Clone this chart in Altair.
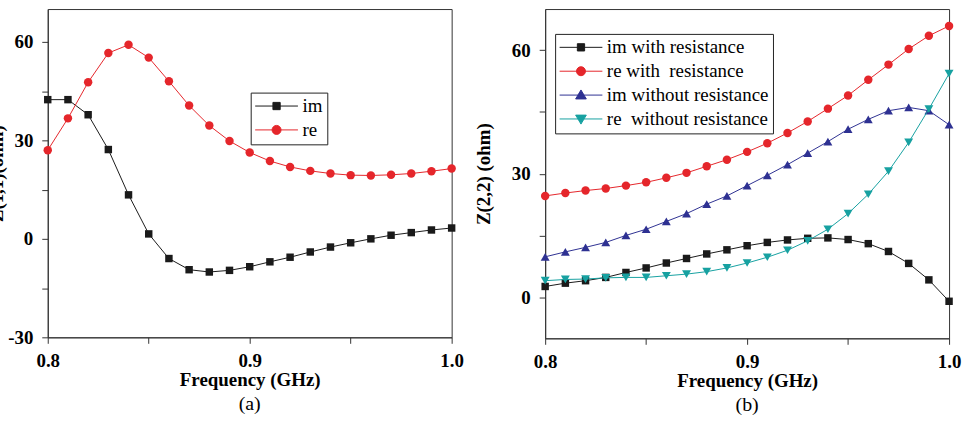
import altair as alt
import pandas as pd

FONT = "Liberation Serif"

# Frequency sweep (GHz)
freq = [0.80, 0.81, 0.82, 0.83, 0.84, 0.85, 0.86, 0.87, 0.88, 0.89, 0.90,
        0.91, 0.92, 0.93, 0.94, 0.95, 0.96, 0.97, 0.98, 0.99, 1.00]

# Z(1,1) in ohm
z11_im = [42.4, 42.4, 37.8, 27.2, 13.4, 1.5, -6.0, -9.4, -10.1, -9.6, -8.5,
          -7.0, -5.6, -4.0, -2.5, -1.2, 0.0, 1.1, 1.9, 2.7, 3.3]
z11_re = [27.0, 36.7, 47.7, 56.6, 59.1, 55.2, 48.0, 40.6, 34.5, 29.8, 26.3,
          23.7, 21.9, 20.7, 19.9, 19.4, 19.3, 19.5, 19.9, 20.6, 21.4]

# Z(2,2) in ohm
z22_im_r = [2.6, 3.4, 4.0, 4.8, 6.0, 7.1, 8.3, 9.4, 10.5, 11.5, 12.5,
            13.3, 13.9, 14.3, 14.4, 14.0, 13.0, 11.1, 8.2, 4.2, -1.0]
z22_re_r = [24.6, 25.3, 25.9, 26.4, 27.1, 27.9, 29.0, 30.2, 31.8, 33.4, 35.3,
            37.4, 39.9, 42.7, 45.8, 49.0, 52.8, 56.5, 60.3, 63.5, 65.9]
z22_im_nr = [9.8, 11.0, 12.1, 13.3, 15.0, 16.5, 18.4, 20.3, 22.6, 24.6, 27.1,
             29.6, 32.2, 35.0, 37.8, 40.8, 43.2, 45.3, 46.1, 45.3, 41.9]
z22_re_nr = [4.0, 4.3, 4.4, 4.7, 4.8, 4.8, 5.2, 5.6, 6.2, 7.1, 8.3,
             9.7, 11.4, 13.7, 16.5, 20.3, 25.0, 30.6, 37.6, 45.7, 54.3]

names_a = ["im", "re"]
names_b = ["im with resistance", "re with\u00a0 resistance",
           "im without resistance", "re\u00a0 without resistance"]

BLACK, RED, BLUE, TEAL = "#1a1a1a", "#e5262b", "#2e3192", "#17a1a1"

# marker + line legend glyphs (unit coordinates, scaled by the symbol size)
LINE = "M-1,0L1,0"
P_SQUARE = LINE + "M-0.17,-0.17L0.17,-0.17L0.17,0.17L-0.17,0.17Z"
P_CIRCLE = LINE + "M-0.21,0A0.21,0.21 0 1,0 0.21,0A0.21,0.21 0 1,0 -0.21,0Z"
P_UP = LINE + "M0,-0.24L0.25,0.18L-0.25,0.18Z"
P_DOWN = LINE + "M0,0.24L0.25,-0.18L-0.25,-0.18Z"


def long_table(names, series):
    rows = []
    for n, vals in zip(names, series):
        for f, v in zip(freq, vals):
            rows.append({"f": f, "z": v, "s": n})
    return pd.DataFrame(rows)


X_LABEL = "round(datum.value * 100) % 10 == 0 ? format(datum.value, '.1f') : ''"
Y_LABEL = "datum.value % 30 == 0 ? '' + datum.value : ''"


def panel(df, names, colors, shapes, sizes, paths, y_title, y_domain, y_ticks,
          caption, leg_x, leg_y, title_pad, h):
    x = alt.X("f:Q", scale=alt.Scale(domain=[0.8, 1.0], nice=False, zero=False),
              axis=alt.Axis(title="Frequency (GHz)",
                            values=[0.8, 0.85, 0.9, 0.95, 1.0],
                            labelExpr=X_LABEL, labelPadding=8, titlePadding=0))
    y = alt.Y("z:Q", scale=alt.Scale(domain=y_domain, nice=False, zero=False),
              axis=alt.Axis(title=y_title, values=y_ticks, labelExpr=Y_LABEL,
                            labelPadding=9, titlePadding=title_pad))
    layers = []
    for n, c, shp, sz in zip(names, colors, shapes, sizes):
        sub = alt.Chart(df).transform_filter(alt.datum.s == n)
        layers.append(sub.mark_line(color=c, strokeWidth=1).encode(x=x, y=y))
        layers.append(sub.mark_point(shape=shp, filled=True, color=c, size=sz,
                                     opacity=1, strokeWidth=0).encode(x=x, y=y))
    legend = alt.Legend(title=None, orient="none", legendX=leg_x, legendY=leg_y,
                        direction="vertical", padding=4, strokeColor="#222",
                        fillColor="white", symbolSize=1849, symbolStrokeWidth=1,
                        clipHeight=19, rowPadding=4, labelOffset=4, labelLimit=0,
                        labelFont=FONT, labelFontSize=19, labelColor="black",
                        labelFontWeight="normal")
    key = alt.Chart(df).transform_filter("false").mark_point(
        filled=True, opacity=1, strokeWidth=1).encode(
        x=x, y=y,
        fill=alt.Fill("s:N", scale=alt.Scale(domain=names, range=colors), legend=legend),
        stroke=alt.Stroke("s:N", scale=alt.Scale(domain=names, range=colors), legend=legend),
        shape=alt.Shape("s:N", scale=alt.Scale(domain=names, range=paths), legend=legend),
    )
    layers.append(key)
    return alt.layer(*layers).properties(
        width=406, height=h,
        title=alt.TitleParams(caption, orient="bottom", font=FONT, fontSize=20,
                              fontWeight="normal", color="black", offset=5),
    )


left = panel(long_table(names_a, [z11_im, z11_re]), names_a,
             [BLACK, RED], ["square", "circle"], [56, 72], [P_SQUARE, P_CIRCLE],
             "Z(1,1)(ohm)", [-30, 70], [-30, -15, 0, 15, 30, 45, 60],
             "(a)", 204, 84, 1, 330)

right = panel(long_table(names_b, [z22_im_r, z22_re_r, z22_im_nr, z22_re_nr]), names_b,
              [BLACK, RED, BLUE, TEAL], ["square", "circle", "triangle-up", "triangle-down"],
              [56, 72, 80, 80], [P_SQUARE, P_CIRCLE, P_UP, P_DOWN],
              "Z(2,2) (ohm)", [-10, 70], [0, 15, 30, 45, 60],
              "(b)", 10, 25, 18, 331)

chart = alt.hconcat(left, right, spacing=9).resolve_scale(
    fill="independent", stroke="independent", shape="independent"
).properties(
    padding={"left": -13, "top": 7, "right": 0, "bottom": 0},
    background="white",
).configure(font=FONT).configure_view(
    stroke="#333", strokeWidth=1
).configure_axis(
    grid=False, domainColor="#333", tickColor="#333", tickSize=6,
    labelFont=FONT, labelFontSize=19, labelFontWeight="bold", labelColor="black",
    titleFont=FONT, titleFontSize=19, titleFontWeight="bold", titleColor="black",
    labelFlush=False, labelOverlap=False,
)

chart.save("out.html", embed_options={"renderer": "svg", "actions": False})
